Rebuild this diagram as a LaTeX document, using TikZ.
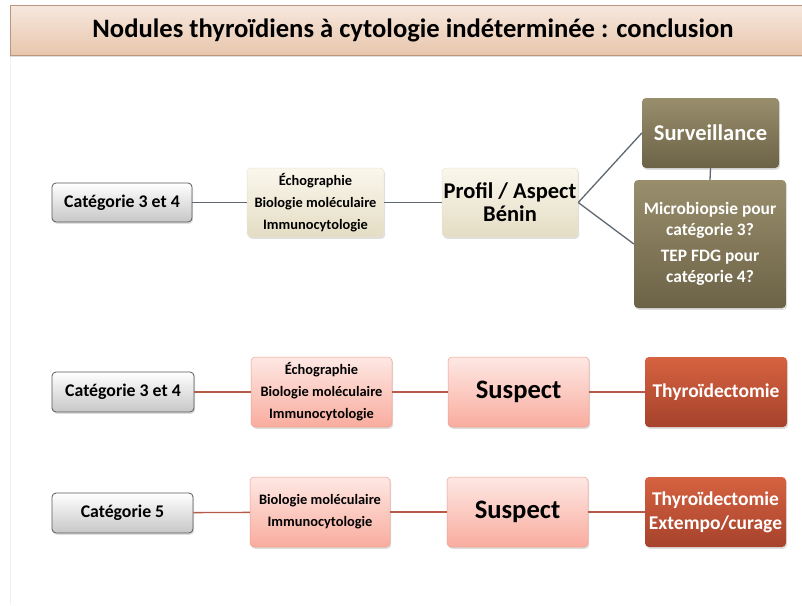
\documentclass[tikz,border=0pt]{standalone}
\usepackage{fontspec}
\setmainfont{Carlito}
\usetikzlibrary{shadows}
\definecolor{greyline}{HTML}{5F6870}
\definecolor{redline}{HTML}{B45A46}
\tikzset{
  box/.style={rounded corners=4pt, align=center, inner sep=1pt, font=\bfseries,
    drop shadow={opacity=0.25, shadow xshift=1.2pt, shadow yshift=-1.8pt}},
  catbox/.style={box, draw=black!65, line width=0.8pt, top color=white, bottom color=black!22,
    minimum width=140pt, minimum height=39pt, font=\bfseries\fontsize{17.8}{20}\selectfont},
  beigebox/.style={box, draw=black!15!brown!20, line width=0.5pt, top color={rgb,255:red,250;green,247;blue,236},
    bottom color={rgb,255:red,228;green,221;blue,196}, minimum width=137pt, minimum height=69pt},
  olivebox/.style={box, draw=none, top color={rgb,255:red,153;green,142;blue,108},
    bottom color={rgb,255:red,108;green,98;blue,70}, text=white},
  pinkbox/.style={box, draw={rgb,255:red,236;green,160;blue,145}, line width=0.5pt,
    top color={rgb,255:red,254;green,232;blue,228}, bottom color={rgb,255:red,249;green,172;blue,158},
    minimum width=141pt, minimum height=70pt},
  redbox/.style={box, draw=none, top color={rgb,255:red,214;green,98;blue,64},
    bottom color={rgb,255:red,166;green,66;blue,44}, text=white, minimum width=142pt, minimum height=70pt},
  smalltxt/.style={font=\bfseries\fontsize{14.4}{22}\selectfont},
  gline/.style={draw=greyline, line width=1.3pt},
  rline/.style={draw=redline, line width=1.3pt}
}
\begin{document}
\begin{tikzpicture}[x=1pt, y=-1pt]
\useasboundingbox (0,0) rectangle (802,605);
\fill[white] (0,0) rectangle (802,605);
% slide left border
\draw[black!6, line width=1pt] (10,55) -- (10,605);
% title band
\node[draw={rgb,255:red,185;green,150;blue,125}, line width=0.6pt,
  top color={rgb,255:red,246;green,232;blue,222}, bottom color={rgb,255:red,232;green,198;blue,172},
  drop shadow={opacity=0.25, shadow xshift=0pt, shadow yshift=-2pt},
  minimum width=794pt, minimum height=50pt, inner sep=0pt] (title) at (407,30) {};
\node[font=\bfseries\fontsize{26.6}{30}\selectfont] (titletext) at (413,30) {Nodules thyroïdiens à cytologie indéterminée : conclusion};

% Row 1
\node[catbox] (cat1) at (122,202.5) {Catégorie 3 et 4};
\node[beigebox, smalltxt] (tech1) at (315.5,202.5) {Échographie\\Biologie moléculaire\\Immunocytologie};
\node[beigebox, minimum width=136pt, font=\bfseries\fontsize{22.5}{23}\selectfont] (prof) at (510,202.5) {Profil / Aspect\\Bénin};
\node[olivebox, minimum width=137pt, minimum height=70pt, font=\bfseries\fontsize{22.5}{24}\selectfont] (surv) at (710.5,133) {Surveillance};
\node[olivebox, minimum width=152pt, minimum height=128pt, font=\bfseries\fontsize{17.4}{21}\selectfont] (micro) at (710,244)
  {Microbiopsie pour\\catégorie 3?\\[5pt]TEP FDG pour\\catégorie 4?};
\draw[gline] (cat1) -- (tech1);
\draw[gline] (tech1) -- (prof);
\draw[gline] (prof.east) -- (surv.west);
\draw[gline] (prof.east) -- (micro.west);
\draw[gline] (surv.south) -- (micro.north);

% Row 2
\node[catbox, minimum width=142pt, minimum height=40pt] (cat2) at (123,392) {Catégorie 3 et 4};
\node[pinkbox, smalltxt] (tech2) at (321.5,392) {Échographie\\Biologie moléculaire\\Immunocytologie};
\node[pinkbox, font=\bfseries\fontsize{26.6}{30}\selectfont] (susp2) at (518.5,392) {Suspect};
\node[redbox, font=\bfseries\fontsize{19.5}{24}\selectfont] (thy2) at (716,392) {Thyroïdectomie};
\draw[rline] (cat2) -- (tech2);
\draw[rline] (tech2) -- (susp2);
\draw[rline] (susp2) -- (thy2);

% Row 3
\node[catbox, minimum width=141pt, minimum height=40pt] (cat3) at (122.5,513) {Catégorie 5};
\node[pinkbox, minimum width=140pt, smalltxt] (tech3) at (320,512) {Biologie moléculaire\\Immunocytologie};
\node[pinkbox, font=\bfseries\fontsize{26.6}{30}\selectfont] (susp3) at (517.5,512) {Suspect};
\node[redbox, minimum width=141pt, font=\bfseries\fontsize{19.5}{24}\selectfont] (thy3) at (715.5,512) {Thyroïdectomie\\Extempo/curage};
\draw[rline] (cat3) -- (tech3);
\draw[rline] (tech3) -- (susp3);
\draw[rline] (susp3) -- (thy3);
\end{tikzpicture}
\end{document}
